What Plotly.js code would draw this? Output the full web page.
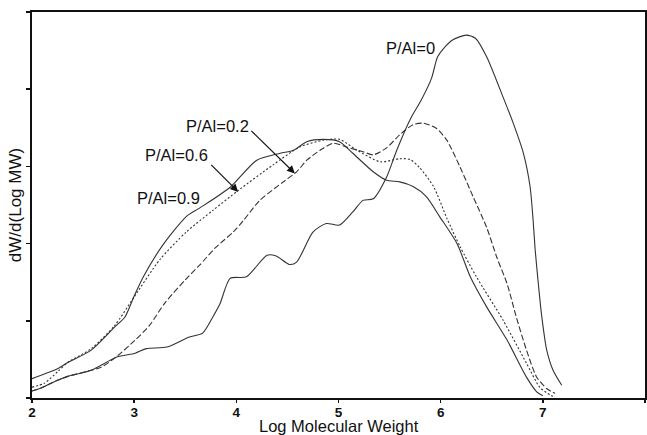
<!DOCTYPE html>
<html>
<head>
<meta charset="utf-8">
<script src="https://cdn.plot.ly/plotly-3.0.1.min.js"></script>
<style>html,body{margin:0;padding:0;background:#fff;}#chart{width:647px;height:435px;}</style>
</head>
<body>
<div id="chart"></div>
<script>
// P/Al = 0.9 (solid)
const x09 = [2.00,2.12,2.25,2.35,2.58,2.81,2.91,2.99,3.09,3.28,3.51,3.64,3.94,4.20,4.43,4.56,4.69,4.85,5.01,5.14,5.34,5.47,5.60,5.73,5.86,5.99,6.16,6.29,6.45,6.65,6.84,6.94,7.00];
const y09 = [0.25,0.31,0.38,0.46,0.62,0.92,1.05,1.29,1.57,1.98,2.35,2.46,2.73,3.08,3.17,3.21,3.32,3.35,3.32,3.17,2.93,2.82,2.80,2.74,2.61,2.35,2.00,1.57,1.18,0.75,0.27,0.08,0.03];
// P/Al = 0.6 (dotted)
const x06 = [2.00,2.12,2.25,2.35,2.58,2.81,2.99,3.25,3.51,3.77,4.02,4.36,4.62,4.85,5.01,5.18,5.41,5.60,5.70,5.79,5.93,6.06,6.19,6.35,6.61,6.84,6.97,7.07,7.12];
const y06 = [0.14,0.19,0.34,0.46,0.64,0.94,1.29,1.79,2.15,2.43,2.69,3.02,3.25,3.34,3.35,3.21,3.06,3.10,3.09,2.99,2.74,2.33,1.96,1.57,1.01,0.45,0.14,0.04,0.01];
// P/Al = 0.2 (dashed)
const x02 = [2.00,2.09,2.25,2.35,2.58,2.68,2.84,3.01,3.15,3.30,3.50,3.64,3.79,3.97,4.07,4.23,4.46,4.59,4.69,4.82,4.95,5.08,5.24,5.34,5.47,5.60,5.73,5.83,5.96,6.06,6.19,6.32,6.45,6.55,6.65,6.74,6.84,6.94,7.04,7.12];
const y02 = [0.09,0.13,0.23,0.28,0.36,0.40,0.55,0.75,0.94,1.23,1.53,1.72,1.94,2.15,2.30,2.56,2.80,2.93,3.08,3.21,3.30,3.25,3.19,3.15,3.24,3.41,3.54,3.56,3.49,3.34,2.99,2.60,2.21,1.82,1.48,1.05,0.62,0.27,0.12,0.06];
// P/Al = 0 (solid)
const x00 = [2.00,2.09,2.25,2.35,2.58,2.83,3.01,3.12,3.32,3.54,3.67,3.77,3.84,3.94,4.10,4.30,4.39,4.52,4.59,4.75,4.88,5.01,5.14,5.24,5.34,5.47,5.57,5.71,5.81,5.91,5.97,6.03,6.12,6.25,6.34,6.45,6.61,6.71,6.81,6.875,6.905,6.925,6.956,6.99,7.038,7.10,7.185];
const y00 = [0.09,0.13,0.23,0.28,0.36,0.53,0.58,0.64,0.66,0.79,0.84,1.05,1.22,1.55,1.57,1.85,1.84,1.73,1.76,2.15,2.26,2.24,2.41,2.56,2.58,2.86,3.21,3.63,3.86,4.14,4.42,4.53,4.64,4.70,4.66,4.42,3.90,3.56,3.17,2.74,2.30,1.92,1.48,1.05,0.62,0.36,0.165];

const seriesNames = ['P/Al=0.9','P/Al=0.6','P/Al=0.2','P/Al=0'];
const xTicks = [2,3,4,5,6,7,8];
const yTicks = [0,1,2,3,4,5];

const lineCol = '#333';
function tr(x, y, name, dash, w) {
  return {x: x, y: y, name: name, type: 'scatter', mode: 'lines',
          line: {color: lineCol, width: w, dash: dash, shape: 'spline', smoothing: 0.7},
          hoverinfo: 'skip'};
}
const data = [
  tr(x09, y09, seriesNames[0], 'solid', 1.1),
  tr(x06, y06, seriesNames[1], '2px,2px', 1.1),
  tr(x02, y02, seriesNames[2], '6px,2.5px', 1.1),
  tr(x00, y00, seriesNames[3], 'solid', 1.1)
];

const font = 'Liberation Sans, Arial, sans-serif';
const labFont = {family: font, size: 16.5, color: '#111'};
const annotations = [
  {x: 3.814, y: 3.52, text: seriesNames[2], showarrow: false, font: labFont},
  {x: 3.41, y: 3.146, text: seriesNames[1], showarrow: false, font: labFont},
  {x: 3.332, y: 2.585, text: seriesNames[0], showarrow: false, font: labFont},
  {x: 5.707, y: 4.54, text: seriesNames[3], showarrow: false, font: labFont},
  {x: 4.573, y: 2.909, ax: 4.132, ay: 3.479, axref: 'x', ayref: 'y', text: '', showarrow: true,
   arrowhead: 2, arrowsize: 1.3, arrowwidth: 1.2, arrowcolor: '#111'},
  {x: 4.018, y: 2.67, ax: 3.74, ay: 3.039, axref: 'x', ayref: 'y', text: '', showarrow: true,
   arrowhead: 2, arrowsize: 1.3, arrowwidth: 1.2, arrowcolor: '#111'},
  {xref: 'paper', yref: 'paper', x: 0.5, y: 0, yanchor: 'top', yshift: -17, showarrow: false,
   text: 'Log Molecular Weight', font: {family: font, size: 16.5, color: '#111'}}
];

const layout = {
  width: 647, height: 435,
  margin: {l: 32, r: 2, t: 12, b: 37, pad: 0},
  paper_bgcolor: '#fff', plot_bgcolor: '#fff',
  showlegend: false,
  xaxis: {
    range: [2, 8], tickvals: xTicks, ticktext: xTicks.map(v => '<b>' + v + '</b>'),
    showgrid: false, zeroline: false,
    showline: true, linecolor: '#111', linewidth: 2, mirror: true,
    ticks: 'outside', ticklen: 3, tickwidth: 1.5, tickcolor: '#111',
    ticklabelstandoff: -2,
    tickfont: {family: font, size: 13.5, color: '#111'}
  },
  yaxis: {
    range: [0, 5], tickvals: yTicks, showticklabels: false,
    showgrid: false, zeroline: false,
    showline: true, linecolor: '#111', linewidth: 2, mirror: true,
    ticks: 'outside', ticklen: 4, tickwidth: 1.5, tickcolor: '#111',
    title: {text: 'dW/d(Log MW)', font: {family: font, size: 17, color: '#111'}, standoff: 0}
  },
  annotations: annotations
};

Plotly.newPlot('chart', data, layout, {displayModeBar: false, staticPlot: true});
</script>
</body>
</html>
